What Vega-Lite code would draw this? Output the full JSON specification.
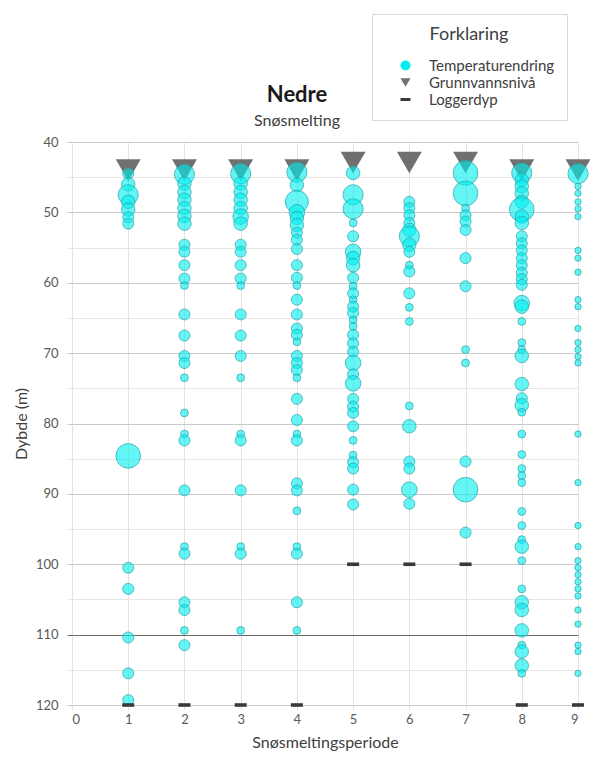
{
  "$schema": "https://vega.github.io/schema/vega-lite/v6.json",
  "width": 506,
  "height": 563,
  "autosize": "none",
  "padding": {"left": 72, "top": 142, "right": 22, "bottom": 55},
  "background": "#ffffff",
  "config": {
    "font": "Lato",
    "view": {"stroke": null},
    "legend": {
      "orient": "none",
      "legendX": 300,
      "legendY": -128,
      "padding": 12,
      "strokeColor": "#d9d9d9",
      "fillColor": "#ffffff",
      "titleFontSize": 18,
      "titleFontWeight": "normal",
      "titleColor": "#404040",
      "titleAnchor": "middle",
      "titlePadding": 14,
      "labelFontSize": 15,
      "labelColor": "#404040",
      "rowPadding": 1,
      "labelOffset": 16,
      "symbolOffset": 14
    }
  },
  "title": {
    "text": "Nedre",
    "subtitle": "Snøsmelting",
    "anchor": "middle",
    "frame": "group",
    "dx": -28,
    "dy": 128,
    "offset": 12,
    "font": "Lato",
    "fontSize": 22,
    "fontWeight": "bold",
    "color": "#1a1a1a",
    "subtitleFont": "Lato",
    "subtitleFontSize": 16,
    "subtitleColor": "#404040",
    "subtitlePadding": 6
  },
  "data": {
    "values": [
      {"periode": 1, "dybde": 44, "serie": "Grunnvannsnivå"},
      {"periode": 2, "dybde": 44, "serie": "Grunnvannsnivå"},
      {"periode": 3, "dybde": 44, "serie": "Grunnvannsnivå"},
      {"periode": 4, "dybde": 44, "serie": "Grunnvannsnivå"},
      {"periode": 5, "dybde": 42.9, "serie": "Grunnvannsnivå"},
      {"periode": 6, "dybde": 42.9, "serie": "Grunnvannsnivå"},
      {"periode": 7, "dybde": 42.9, "serie": "Grunnvannsnivå"},
      {"periode": 8, "dybde": 44, "serie": "Grunnvannsnivå"},
      {"periode": 9, "dybde": 44, "serie": "Grunnvannsnivå"},
      {"periode": 1, "dybde": 120, "serie": "Loggerdyp"},
      {"periode": 2, "dybde": 120, "serie": "Loggerdyp"},
      {"periode": 3, "dybde": 120, "serie": "Loggerdyp"},
      {"periode": 4, "dybde": 120, "serie": "Loggerdyp"},
      {"periode": 5, "dybde": 100, "serie": "Loggerdyp"},
      {"periode": 6, "dybde": 100, "serie": "Loggerdyp"},
      {"periode": 7, "dybde": 100, "serie": "Loggerdyp"},
      {"periode": 8, "dybde": 120, "serie": "Loggerdyp"},
      {"periode": 9, "dybde": 120, "serie": "Loggerdyp"},

      {"periode": 1, "dybde": 44.5, "serie": "Temperaturendring", "endring": 3},
      {"periode": 1, "dybde": 46, "serie": "Temperaturendring", "endring": 4.5},
      {"periode": 1, "dybde": 47.5, "serie": "Temperaturendring", "endring": 10},
      {"periode": 1, "dybde": 48.5, "serie": "Temperaturendring", "endring": 4.5},
      {"periode": 1, "dybde": 49.6, "serie": "Temperaturendring", "endring": 4.5},
      {"periode": 1, "dybde": 50.7, "serie": "Temperaturendring", "endring": 3},
      {"periode": 1, "dybde": 51.6, "serie": "Temperaturendring", "endring": 3},
      {"periode": 1, "dybde": 84.6, "serie": "Temperaturendring", "endring": 15},
      {"periode": 1, "dybde": 100.5, "serie": "Temperaturendring", "endring": 3},
      {"periode": 1, "dybde": 103.5, "serie": "Temperaturendring", "endring": 3},
      {"periode": 1, "dybde": 110.4, "serie": "Temperaturendring", "endring": 3},
      {"periode": 1, "dybde": 115.5, "serie": "Temperaturendring", "endring": 3},
      {"periode": 1, "dybde": 119.3, "serie": "Temperaturendring", "endring": 3},

      {"periode": 2, "dybde": 44.6, "serie": "Temperaturendring", "endring": 10},
      {"periode": 2, "dybde": 45.9, "serie": "Temperaturendring", "endring": 4.5},
      {"periode": 2, "dybde": 47.1, "serie": "Temperaturendring", "endring": 4.5},
      {"periode": 2, "dybde": 48.2, "serie": "Temperaturendring", "endring": 4.5},
      {"periode": 2, "dybde": 49.4, "serie": "Temperaturendring", "endring": 4.5},
      {"periode": 2, "dybde": 50.5, "serie": "Temperaturendring", "endring": 4.5},
      {"periode": 2, "dybde": 51.6, "serie": "Temperaturendring", "endring": 4.5},
      {"periode": 2, "dybde": 54.6, "serie": "Temperaturendring", "endring": 3},
      {"periode": 2, "dybde": 55.6, "serie": "Temperaturendring", "endring": 3},
      {"periode": 2, "dybde": 57.5, "serie": "Temperaturendring", "endring": 3},
      {"periode": 2, "dybde": 59.4, "serie": "Temperaturendring", "endring": 3},
      {"periode": 2, "dybde": 60.4, "serie": "Temperaturendring", "endring": 1.5},
      {"periode": 2, "dybde": 64.5, "serie": "Temperaturendring", "endring": 3},
      {"periode": 2, "dybde": 67.5, "serie": "Temperaturendring", "endring": 3},
      {"periode": 2, "dybde": 70.4, "serie": "Temperaturendring", "endring": 3},
      {"periode": 2, "dybde": 71.4, "serie": "Temperaturendring", "endring": 3},
      {"periode": 2, "dybde": 73.5, "serie": "Temperaturendring", "endring": 1.5},
      {"periode": 2, "dybde": 78.5, "serie": "Temperaturendring", "endring": 1.5},
      {"periode": 2, "dybde": 81.5, "serie": "Temperaturendring", "endring": 1.5},
      {"periode": 2, "dybde": 82.4, "serie": "Temperaturendring", "endring": 3},
      {"periode": 2, "dybde": 89.5, "serie": "Temperaturendring", "endring": 3},
      {"periode": 2, "dybde": 97.5, "serie": "Temperaturendring", "endring": 1.5},
      {"periode": 2, "dybde": 98.5, "serie": "Temperaturendring", "endring": 3},
      {"periode": 2, "dybde": 105.4, "serie": "Temperaturendring", "endring": 3},
      {"periode": 2, "dybde": 106.5, "serie": "Temperaturendring", "endring": 3},
      {"periode": 2, "dybde": 109.4, "serie": "Temperaturendring", "endring": 1.5},
      {"periode": 2, "dybde": 111.5, "serie": "Temperaturendring", "endring": 3},

      {"periode": 3, "dybde": 44.5, "serie": "Temperaturendring", "endring": 10},
      {"periode": 3, "dybde": 45.9, "serie": "Temperaturendring", "endring": 4.5},
      {"periode": 3, "dybde": 47.1, "serie": "Temperaturendring", "endring": 4.5},
      {"periode": 3, "dybde": 48.2, "serie": "Temperaturendring", "endring": 4.5},
      {"periode": 3, "dybde": 49.4, "serie": "Temperaturendring", "endring": 4.5},
      {"periode": 3, "dybde": 50.6, "serie": "Temperaturendring", "endring": 6},
      {"periode": 3, "dybde": 51.6, "serie": "Temperaturendring", "endring": 4.5},
      {"periode": 3, "dybde": 54.6, "serie": "Temperaturendring", "endring": 3},
      {"periode": 3, "dybde": 55.6, "serie": "Temperaturendring", "endring": 3},
      {"periode": 3, "dybde": 57.5, "serie": "Temperaturendring", "endring": 3},
      {"periode": 3, "dybde": 59.4, "serie": "Temperaturendring", "endring": 3},
      {"periode": 3, "dybde": 60.4, "serie": "Temperaturendring", "endring": 1.5},
      {"periode": 3, "dybde": 64.5, "serie": "Temperaturendring", "endring": 3},
      {"periode": 3, "dybde": 67.5, "serie": "Temperaturendring", "endring": 3},
      {"periode": 3, "dybde": 70.4, "serie": "Temperaturendring", "endring": 3},
      {"periode": 3, "dybde": 73.5, "serie": "Temperaturendring", "endring": 1.5},
      {"periode": 3, "dybde": 81.5, "serie": "Temperaturendring", "endring": 1.5},
      {"periode": 3, "dybde": 82.4, "serie": "Temperaturendring", "endring": 3},
      {"periode": 3, "dybde": 89.5, "serie": "Temperaturendring", "endring": 3},
      {"periode": 3, "dybde": 97.5, "serie": "Temperaturendring", "endring": 1.5},
      {"periode": 3, "dybde": 98.5, "serie": "Temperaturendring", "endring": 3},
      {"periode": 3, "dybde": 109.4, "serie": "Temperaturendring", "endring": 1.5},

      {"periode": 4, "dybde": 44.3, "serie": "Temperaturendring", "endring": 10},
      {"periode": 4, "dybde": 46.1, "serie": "Temperaturendring", "endring": 4.5},
      {"periode": 4, "dybde": 48.5, "serie": "Temperaturendring", "endring": 13},
      {"periode": 4, "dybde": 50, "serie": "Temperaturendring", "endring": 6},
      {"periode": 4, "dybde": 50.8, "serie": "Temperaturendring", "endring": 4.5},
      {"periode": 4, "dybde": 51.8, "serie": "Temperaturendring", "endring": 4.5},
      {"periode": 4, "dybde": 52.9, "serie": "Temperaturendring", "endring": 3},
      {"periode": 4, "dybde": 53.9, "serie": "Temperaturendring", "endring": 3},
      {"periode": 4, "dybde": 55.2, "serie": "Temperaturendring", "endring": 3},
      {"periode": 4, "dybde": 57.5, "serie": "Temperaturendring", "endring": 3},
      {"periode": 4, "dybde": 59.3, "serie": "Temperaturendring", "endring": 3},
      {"periode": 4, "dybde": 60.4, "serie": "Temperaturendring", "endring": 1.5},
      {"periode": 4, "dybde": 62.4, "serie": "Temperaturendring", "endring": 3},
      {"periode": 4, "dybde": 64.5, "serie": "Temperaturendring", "endring": 3},
      {"periode": 4, "dybde": 66.5, "serie": "Temperaturendring", "endring": 3},
      {"periode": 4, "dybde": 67.4, "serie": "Temperaturendring", "endring": 3},
      {"periode": 4, "dybde": 68.4, "serie": "Temperaturendring", "endring": 1.5},
      {"periode": 4, "dybde": 70.4, "serie": "Temperaturendring", "endring": 3},
      {"periode": 4, "dybde": 71.4, "serie": "Temperaturendring", "endring": 3},
      {"periode": 4, "dybde": 72.4, "serie": "Temperaturendring", "endring": 3},
      {"periode": 4, "dybde": 73.5, "serie": "Temperaturendring", "endring": 1.5},
      {"periode": 4, "dybde": 76.5, "serie": "Temperaturendring", "endring": 3},
      {"periode": 4, "dybde": 79.5, "serie": "Temperaturendring", "endring": 3},
      {"periode": 4, "dybde": 81.5, "serie": "Temperaturendring", "endring": 1.5},
      {"periode": 4, "dybde": 82.4, "serie": "Temperaturendring", "endring": 3},
      {"periode": 4, "dybde": 88.5, "serie": "Temperaturendring", "endring": 3},
      {"periode": 4, "dybde": 89.5, "serie": "Temperaturendring", "endring": 3},
      {"periode": 4, "dybde": 92.4, "serie": "Temperaturendring", "endring": 1.5},
      {"periode": 4, "dybde": 97.5, "serie": "Temperaturendring", "endring": 1.5},
      {"periode": 4, "dybde": 98.5, "serie": "Temperaturendring", "endring": 3},
      {"periode": 4, "dybde": 105.4, "serie": "Temperaturendring", "endring": 3},
      {"periode": 4, "dybde": 109.4, "serie": "Temperaturendring", "endring": 1.5},

      {"periode": 5, "dybde": 44.4, "serie": "Temperaturendring", "endring": 4.5},
      {"periode": 5, "dybde": 47.5, "serie": "Temperaturendring", "endring": 10},
      {"periode": 5, "dybde": 49.5, "serie": "Temperaturendring", "endring": 10},
      {"periode": 5, "dybde": 51.5, "serie": "Temperaturendring", "endring": 1.5},
      {"periode": 5, "dybde": 53.4, "serie": "Temperaturendring", "endring": 3},
      {"periode": 5, "dybde": 55.6, "serie": "Temperaturendring", "endring": 6},
      {"periode": 5, "dybde": 56.5, "serie": "Temperaturendring", "endring": 4.5},
      {"periode": 5, "dybde": 57.5, "serie": "Temperaturendring", "endring": 4.5},
      {"periode": 5, "dybde": 59.3, "serie": "Temperaturendring", "endring": 3},
      {"periode": 5, "dybde": 60.5, "serie": "Temperaturendring", "endring": 1.5},
      {"periode": 5, "dybde": 61.5, "serie": "Temperaturendring", "endring": 3},
      {"periode": 5, "dybde": 62.4, "serie": "Temperaturendring", "endring": 1.5},
      {"periode": 5, "dybde": 63.4, "serie": "Temperaturendring", "endring": 3},
      {"periode": 5, "dybde": 64.3, "serie": "Temperaturendring", "endring": 3},
      {"periode": 5, "dybde": 65.3, "serie": "Temperaturendring", "endring": 1.5},
      {"periode": 5, "dybde": 66.2, "serie": "Temperaturendring", "endring": 1.5},
      {"periode": 5, "dybde": 67.4, "serie": "Temperaturendring", "endring": 3},
      {"periode": 5, "dybde": 68.6, "serie": "Temperaturendring", "endring": 3},
      {"periode": 5, "dybde": 69.8, "serie": "Temperaturendring", "endring": 3},
      {"periode": 5, "dybde": 71.4, "serie": "Temperaturendring", "endring": 6},
      {"periode": 5, "dybde": 73, "serie": "Temperaturendring", "endring": 3},
      {"periode": 5, "dybde": 74.3, "serie": "Temperaturendring", "endring": 6},
      {"periode": 5, "dybde": 76.5, "serie": "Temperaturendring", "endring": 3},
      {"periode": 5, "dybde": 77.6, "serie": "Temperaturendring", "endring": 3},
      {"periode": 5, "dybde": 78.5, "serie": "Temperaturendring", "endring": 3},
      {"periode": 5, "dybde": 80.4, "serie": "Temperaturendring", "endring": 3},
      {"periode": 5, "dybde": 82.4, "serie": "Temperaturendring", "endring": 1.5},
      {"periode": 5, "dybde": 84.5, "serie": "Temperaturendring", "endring": 1.5},
      {"periode": 5, "dybde": 85.5, "serie": "Temperaturendring", "endring": 3},
      {"periode": 5, "dybde": 86.4, "serie": "Temperaturendring", "endring": 3},
      {"periode": 5, "dybde": 89.4, "serie": "Temperaturendring", "endring": 3},
      {"periode": 5, "dybde": 91.5, "serie": "Temperaturendring", "endring": 3},

      {"periode": 6, "dybde": 48.5, "serie": "Temperaturendring", "endring": 3},
      {"periode": 6, "dybde": 49.4, "serie": "Temperaturendring", "endring": 3},
      {"periode": 6, "dybde": 50.4, "serie": "Temperaturendring", "endring": 3},
      {"periode": 6, "dybde": 51.5, "serie": "Temperaturendring", "endring": 3},
      {"periode": 6, "dybde": 52.5, "serie": "Temperaturendring", "endring": 4.5},
      {"periode": 6, "dybde": 53.4, "serie": "Temperaturendring", "endring": 10},
      {"periode": 6, "dybde": 54.6, "serie": "Temperaturendring", "endring": 4.5},
      {"periode": 6, "dybde": 55.6, "serie": "Temperaturendring", "endring": 3},
      {"periode": 6, "dybde": 57.5, "serie": "Temperaturendring", "endring": 1.5},
      {"periode": 6, "dybde": 58.4, "serie": "Temperaturendring", "endring": 3},
      {"periode": 6, "dybde": 61.5, "serie": "Temperaturendring", "endring": 3},
      {"periode": 6, "dybde": 63.5, "serie": "Temperaturendring", "endring": 1.5},
      {"periode": 6, "dybde": 65.5, "serie": "Temperaturendring", "endring": 1.5},
      {"periode": 6, "dybde": 77.5, "serie": "Temperaturendring", "endring": 1.5},
      {"periode": 6, "dybde": 80.4, "serie": "Temperaturendring", "endring": 4.5},
      {"periode": 6, "dybde": 85.4, "serie": "Temperaturendring", "endring": 3},
      {"periode": 6, "dybde": 86.4, "serie": "Temperaturendring", "endring": 3},
      {"periode": 6, "dybde": 89.4, "serie": "Temperaturendring", "endring": 6},
      {"periode": 6, "dybde": 91.4, "serie": "Temperaturendring", "endring": 3},

      {"periode": 7, "dybde": 44.4, "serie": "Temperaturendring", "endring": 15},
      {"periode": 7, "dybde": 47.3, "serie": "Temperaturendring", "endring": 15},
      {"periode": 7, "dybde": 49.4, "serie": "Temperaturendring", "endring": 1.5},
      {"periode": 7, "dybde": 50.4, "serie": "Temperaturendring", "endring": 3},
      {"periode": 7, "dybde": 51.3, "serie": "Temperaturendring", "endring": 3},
      {"periode": 7, "dybde": 52.5, "serie": "Temperaturendring", "endring": 3},
      {"periode": 7, "dybde": 56.5, "serie": "Temperaturendring", "endring": 3},
      {"periode": 7, "dybde": 60.5, "serie": "Temperaturendring", "endring": 3},
      {"periode": 7, "dybde": 69.5, "serie": "Temperaturendring", "endring": 1.5},
      {"periode": 7, "dybde": 71.4, "serie": "Temperaturendring", "endring": 1.5},
      {"periode": 7, "dybde": 85.4, "serie": "Temperaturendring", "endring": 3},
      {"periode": 7, "dybde": 89.4, "serie": "Temperaturendring", "endring": 15},
      {"periode": 7, "dybde": 95.5, "serie": "Temperaturendring", "endring": 3},

      {"periode": 8, "dybde": 44.4, "serie": "Temperaturendring", "endring": 10},
      {"periode": 8, "dybde": 45.4, "serie": "Temperaturendring", "endring": 4.5},
      {"periode": 8, "dybde": 46.3, "serie": "Temperaturendring", "endring": 4.5},
      {"periode": 8, "dybde": 47.3, "serie": "Temperaturendring", "endring": 4.5},
      {"periode": 8, "dybde": 48.5, "serie": "Temperaturendring", "endring": 4.5},
      {"periode": 8, "dybde": 49.6, "serie": "Temperaturendring", "endring": 15},
      {"periode": 8, "dybde": 50.6, "serie": "Temperaturendring", "endring": 4.5},
      {"periode": 8, "dybde": 51.5, "serie": "Temperaturendring", "endring": 4.5},
      {"periode": 8, "dybde": 53.4, "serie": "Temperaturendring", "endring": 3},
      {"periode": 8, "dybde": 54.4, "serie": "Temperaturendring", "endring": 3},
      {"periode": 8, "dybde": 55.4, "serie": "Temperaturendring", "endring": 3},
      {"periode": 8, "dybde": 56.5, "serie": "Temperaturendring", "endring": 3},
      {"periode": 8, "dybde": 57.5, "serie": "Temperaturendring", "endring": 3},
      {"periode": 8, "dybde": 58.6, "serie": "Temperaturendring", "endring": 3},
      {"periode": 8, "dybde": 59.5, "serie": "Temperaturendring", "endring": 3},
      {"periode": 8, "dybde": 60.3, "serie": "Temperaturendring", "endring": 3},
      {"periode": 8, "dybde": 62.9, "serie": "Temperaturendring", "endring": 6},
      {"periode": 8, "dybde": 63.4, "serie": "Temperaturendring", "endring": 4.5},
      {"periode": 8, "dybde": 65.5, "serie": "Temperaturendring", "endring": 1.5},
      {"periode": 8, "dybde": 68.5, "serie": "Temperaturendring", "endring": 1.5},
      {"periode": 8, "dybde": 69.5, "serie": "Temperaturendring", "endring": 1.5},
      {"periode": 8, "dybde": 70.4, "serie": "Temperaturendring", "endring": 4.5},
      {"periode": 8, "dybde": 74.4, "serie": "Temperaturendring", "endring": 4.5},
      {"periode": 8, "dybde": 76.4, "serie": "Temperaturendring", "endring": 3},
      {"periode": 8, "dybde": 77.4, "serie": "Temperaturendring", "endring": 4.5},
      {"periode": 8, "dybde": 78.4, "serie": "Temperaturendring", "endring": 1.5},
      {"periode": 8, "dybde": 81.5, "serie": "Temperaturendring", "endring": 1.5},
      {"periode": 8, "dybde": 84.4, "serie": "Temperaturendring", "endring": 1.5},
      {"periode": 8, "dybde": 86.4, "serie": "Temperaturendring", "endring": 1.5},
      {"periode": 8, "dybde": 87.4, "serie": "Temperaturendring", "endring": 1.5},
      {"periode": 8, "dybde": 88.4, "serie": "Temperaturendring", "endring": 1.5},
      {"periode": 8, "dybde": 92.5, "serie": "Temperaturendring", "endring": 1.5},
      {"periode": 8, "dybde": 94.5, "serie": "Temperaturendring", "endring": 1.5},
      {"periode": 8, "dybde": 96.5, "serie": "Temperaturendring", "endring": 1.5},
      {"periode": 8, "dybde": 97.5, "serie": "Temperaturendring", "endring": 4.5},
      {"periode": 8, "dybde": 99.5, "serie": "Temperaturendring", "endring": 1.5},
      {"periode": 8, "dybde": 103.5, "serie": "Temperaturendring", "endring": 1.5},
      {"periode": 8, "dybde": 105.4, "serie": "Temperaturendring", "endring": 4.5},
      {"periode": 8, "dybde": 106.5, "serie": "Temperaturendring", "endring": 4.5},
      {"periode": 8, "dybde": 109.4, "serie": "Temperaturendring", "endring": 4.5},
      {"periode": 8, "dybde": 111.5, "serie": "Temperaturendring", "endring": 1.5},
      {"periode": 8, "dybde": 112.4, "serie": "Temperaturendring", "endring": 4.5},
      {"periode": 8, "dybde": 114.4, "serie": "Temperaturendring", "endring": 4.5},
      {"periode": 8, "dybde": 115.5, "serie": "Temperaturendring", "endring": 1.5},

      {"periode": 9, "dybde": 44.5, "serie": "Temperaturendring", "endring": 10},
      {"periode": 9, "dybde": 46.3, "serie": "Temperaturendring", "endring": 1},
      {"periode": 9, "dybde": 47.3, "serie": "Temperaturendring", "endring": 1},
      {"periode": 9, "dybde": 48.5, "serie": "Temperaturendring", "endring": 1},
      {"periode": 9, "dybde": 49.5, "serie": "Temperaturendring", "endring": 1},
      {"periode": 9, "dybde": 50.6, "serie": "Temperaturendring", "endring": 1},
      {"periode": 9, "dybde": 55.4, "serie": "Temperaturendring", "endring": 1},
      {"periode": 9, "dybde": 56.5, "serie": "Temperaturendring", "endring": 1},
      {"periode": 9, "dybde": 58.5, "serie": "Temperaturendring", "endring": 1},
      {"periode": 9, "dybde": 62.4, "serie": "Temperaturendring", "endring": 1},
      {"periode": 9, "dybde": 63.4, "serie": "Temperaturendring", "endring": 1},
      {"periode": 9, "dybde": 66.5, "serie": "Temperaturendring", "endring": 1},
      {"periode": 9, "dybde": 68.5, "serie": "Temperaturendring", "endring": 1},
      {"periode": 9, "dybde": 69.5, "serie": "Temperaturendring", "endring": 1},
      {"periode": 9, "dybde": 70.5, "serie": "Temperaturendring", "endring": 1},
      {"periode": 9, "dybde": 71.4, "serie": "Temperaturendring", "endring": 1},
      {"periode": 9, "dybde": 81.5, "serie": "Temperaturendring", "endring": 1},
      {"periode": 9, "dybde": 88.4, "serie": "Temperaturendring", "endring": 1},
      {"periode": 9, "dybde": 94.5, "serie": "Temperaturendring", "endring": 1},
      {"periode": 9, "dybde": 97.5, "serie": "Temperaturendring", "endring": 1},
      {"periode": 9, "dybde": 99.5, "serie": "Temperaturendring", "endring": 1},
      {"periode": 9, "dybde": 100.5, "serie": "Temperaturendring", "endring": 1},
      {"periode": 9, "dybde": 101.5, "serie": "Temperaturendring", "endring": 1},
      {"periode": 9, "dybde": 102.5, "serie": "Temperaturendring", "endring": 1},
      {"periode": 9, "dybde": 103.5, "serie": "Temperaturendring", "endring": 1},
      {"periode": 9, "dybde": 104.5, "serie": "Temperaturendring", "endring": 1},
      {"periode": 9, "dybde": 106.5, "serie": "Temperaturendring", "endring": 1},
      {"periode": 9, "dybde": 108.5, "serie": "Temperaturendring", "endring": 1},
      {"periode": 9, "dybde": 111.5, "serie": "Temperaturendring", "endring": 1},
      {"periode": 9, "dybde": 112.4, "serie": "Temperaturendring", "endring": 1},
      {"periode": 9, "dybde": 115.5, "serie": "Temperaturendring", "endring": 1}
    ]
  },
  "encoding": {
    "x": {
      "field": "periode",
      "type": "quantitative",
      "scale": {"domain": [0, 9], "nice": false, "zero": false},
      "axis": {
        "title": "Snøsmeltingsperiode",
        "values": [0, 1, 2, 3, 4, 5, 6, 7, 8, 9],
        "format": "d",
        "grid": true,
        "gridColor": "#e2e2e2",
        "gridWidth": 1,
        "ticks": true,
        "tickSize": 5,
        "tickColor": "#e2e2e2",
        "domain": false,
        "labelAngle": 0,
        "labelPadding": 3,
        "labelFontSize": 13,
        "labelColor": "#595959",
        "labelFont": "Lato",
        "titleFont": "Lato",
        "titleFontSize": 16,
        "titleFontWeight": "normal",
        "titleColor": "#404040",
        "titlePadding": 8
      }
    },
    "y": {
      "field": "dybde",
      "type": "quantitative",
      "scale": {"domain": [40, 120], "reverse": true, "nice": false, "zero": false},
      "axis": {
        "title": "Dybde (m)",
        "values": [40, 45, 50, 55, 60, 65, 70, 75, 80, 85, 90, 95, 100, 105, 110, 115, 120],
        "labelExpr": "datum.value % 10 === 0 ? datum.label : ''",
        "grid": true,
        "gridWidth": 1,
        "gridColor": {"condition": [{"test": "datum.value === 110", "value": "#6b6b6b"}, {"test": "datum.value % 10 === 0", "value": "#cacaca"}], "value": "#e6e6e6"},
        "ticks": true,
        "tickSize": 5,
        "tickColor": {"condition": [{"test": "datum.value === 110", "value": "#6b6b6b"}, {"test": "datum.value % 10 === 0", "value": "#cacaca"}], "value": "#e6e6e6"},
        "domain": false,
        "labelPadding": 9,
        "labelFontSize": 13,
        "labelColor": "#595959",
        "labelFont": "Lato",
        "titleFont": "Lato",
        "titleFontSize": 16,
        "titleFontWeight": "normal",
        "titleColor": "#404040",
        "titlePadding": 6
      }
    },
    "color": {
      "field": "serie",
      "type": "nominal",
      "scale": {"domain": ["Temperaturendring", "Grunnvannsnivå", "Loggerdyp"], "range": ["#00eeee", "#707070", "#3a3a3a"]},
      "legend": {
        "title": "Forklaring",
        "encode": {"symbols": {
          "size": {"condition": [{"test": "datum.value === 'Temperaturendring'", "value": 150}, {"test": "datum.value === 'Grunnvannsnivå'", "value": 110}], "value": 30},
          "fillOpacity": {"condition": {"test": "datum.value === 'Temperaturendring'", "value": 0.6}, "value": 1},
          "stroke": {"condition": {"test": "datum.value === 'Temperaturendring'", "value": "#2a9fa8"}, "value": null},
          "strokeWidth": {"value": 0.8}
        }}
      }
    },
    "shape": {
      "field": "serie",
      "type": "nominal",
      "scale": {"domain": ["Temperaturendring", "Grunnvannsnivå", "Loggerdyp"], "range": ["circle", "triangle-down", "M-1,-0.3L1,-0.3L1,0.3L-1,0.3Z"]},
      "legend": {
        "title": "Forklaring",
        "encode": {"symbols": {
          "size": {"condition": [{"test": "datum.value === 'Temperaturendring'", "value": 150}, {"test": "datum.value === 'Grunnvannsnivå'", "value": 110}], "value": 30},
          "fillOpacity": {"condition": {"test": "datum.value === 'Temperaturendring'", "value": 0.6}, "value": 1},
          "stroke": {"condition": {"test": "datum.value === 'Temperaturendring'", "value": "#2a9fa8"}, "value": null},
          "strokeWidth": {"value": 0.8}
        }}
      }
    }
  },
  "layer": [
    {
      "transform": [{"filter": "datum.serie === 'Grunnvannsnivå'"}],
      "mark": {"type": "point", "filled": true, "opacity": 1, "size": 620}
    },
    {
      "transform": [{"filter": "datum.serie === 'Temperaturendring'"}],
      "mark": {"type": "point", "filled": true, "fillOpacity": 0.6, "stroke": "#2a9fa8", "strokeWidth": 0.8, "strokeOpacity": 0.85},
      "encoding": {
        "size": {"field": "endring", "type": "quantitative", "scale": {"domain": [0, 15], "range": [0, 610], "zero": true}, "legend": null}
      }
    },
    {
      "transform": [{"filter": "datum.serie === 'Loggerdyp'"}],
      "mark": {"type": "point", "filled": true, "opacity": 1, "size": 144}
    }
  ]
}
